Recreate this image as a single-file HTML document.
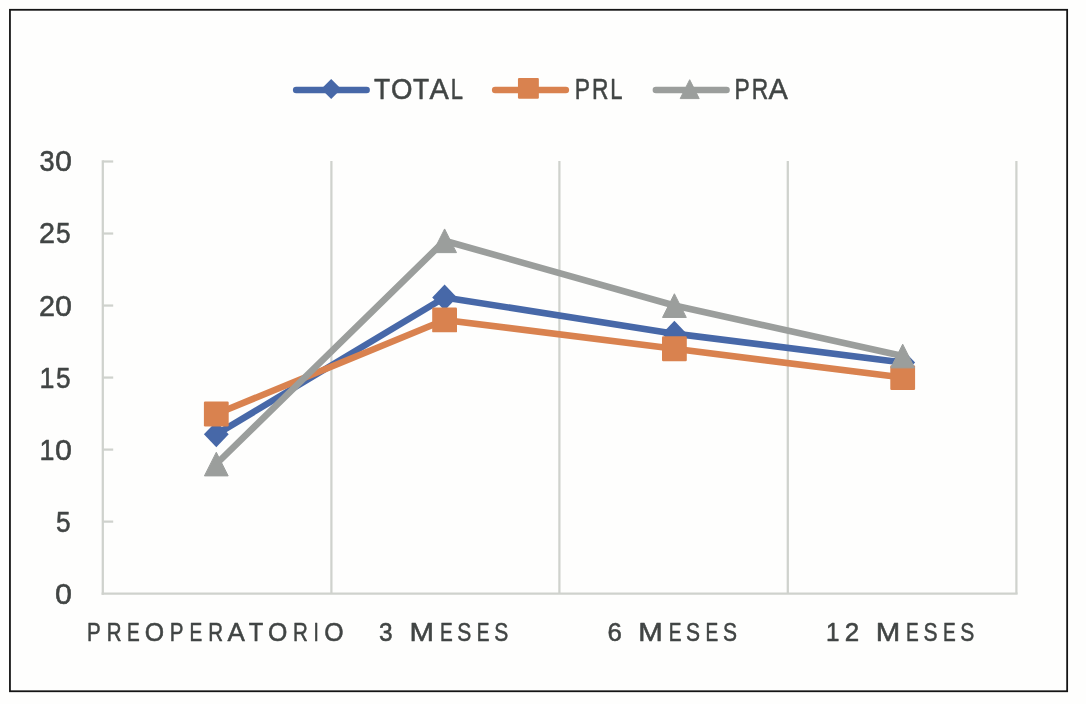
<!DOCTYPE html>
<html><head><meta charset="utf-8"><title>Chart</title>
<style>
html,body{margin:0;padding:0;background:#fefefd;}
body{width:1086px;height:704px;position:relative;overflow:hidden;font-family:"Liberation Sans",sans-serif;color:#414544;}
svg{position:absolute;left:0;top:0;will-change:transform;filter:blur(0.35px);}
text{font-family:"Liberation Sans",sans-serif;fill:#414544;stroke:#414544;stroke-width:0.55px;stroke-linejoin:round;}
.t10{font-size:29.7px;}
.t9{font-size:26.5px;}
.ty{font-size:30.0px;}
</style></head><body>
<svg width="1086" height="704" viewBox="0 0 1086 704">
<rect x="9.95" y="9.8" width="1057.2" height="681.45" fill="none" stroke="#151515" stroke-width="1.8"/>
<line x1="331.4" y1="161.10" x2="331.4" y2="593.65" stroke="#cfd2cd" stroke-width="2.25"/>
<line x1="559.4" y1="161.10" x2="559.4" y2="593.65" stroke="#cfd2cd" stroke-width="2.25"/>
<line x1="787.8" y1="161.10" x2="787.8" y2="593.65" stroke="#cfd2cd" stroke-width="2.25"/>
<line x1="1016.4" y1="161.10" x2="1016.4" y2="593.65" stroke="#cfd2cd" stroke-width="2.25"/>
<line x1="102.8" y1="160.30" x2="102.8" y2="594.85" stroke="#cfd2cd" stroke-width="2.25"/>
<line x1="102.8" y1="521.62" x2="113.2" y2="521.62" stroke="#cfd2cd" stroke-width="2.25"/>
<line x1="102.8" y1="449.60" x2="113.2" y2="449.60" stroke="#cfd2cd" stroke-width="2.25"/>
<line x1="102.8" y1="377.57" x2="113.2" y2="377.57" stroke="#cfd2cd" stroke-width="2.25"/>
<line x1="102.8" y1="305.55" x2="113.2" y2="305.55" stroke="#cfd2cd" stroke-width="2.25"/>
<line x1="102.8" y1="233.52" x2="113.2" y2="233.52" stroke="#cfd2cd" stroke-width="2.25"/>
<line x1="102.8" y1="161.50" x2="113.2" y2="161.50" stroke="#cfd2cd" stroke-width="2.25"/>
<line x1="101.6" y1="593.65" x2="1017.6" y2="593.65" stroke="#cfd2cd" stroke-width="2.25"/>
<polyline points="216.30,434.33 444.60,297.48 674.40,333.64 902.70,362.45" fill="none" stroke="#4768a8" stroke-width="6.6" stroke-linejoin="round" stroke-linecap="round"/>
<path d="M216.30 421.43L228.70 434.33L216.30 447.23L203.90 434.33Z" fill="#4768a8"/>
<path d="M444.60 284.58L457.00 297.48L444.60 310.38L432.20 297.48Z" fill="#4768a8"/>
<path d="M674.40 320.74L686.80 333.64L674.40 346.54L662.00 333.64Z" fill="#4768a8"/>
<path d="M902.70 349.55L915.10 362.45L902.70 375.35L890.30 362.45Z" fill="#4768a8"/>
<polyline points="216.30,414.02 444.60,319.95 674.40,348.76 902.70,377.57" fill="none" stroke="#d9824f" stroke-width="6.6" stroke-linejoin="round" stroke-linecap="round"/>
<rect x="203.90" y="401.62" width="24.80" height="24.80" rx="1.2" fill="#d9824f"/>
<rect x="432.20" y="307.56" width="24.80" height="24.80" rx="1.2" fill="#d9824f"/>
<rect x="662.00" y="336.37" width="24.80" height="24.80" rx="1.2" fill="#d9824f"/>
<rect x="890.30" y="365.18" width="24.80" height="24.80" rx="1.2" fill="#d9824f"/>
<polyline points="216.30,464.00 444.60,240.73 674.40,305.55 902.70,355.97" fill="none" stroke="#9b9e9c" stroke-width="6.6" stroke-linejoin="round" stroke-linecap="round"/>
<path d="M216.30 452.21L228.20 475.90L204.40 475.90Z" fill="#9b9e9c" stroke="#9b9e9c" stroke-width="1" stroke-linejoin="round"/>
<path d="M444.60 228.93L456.50 252.63L432.70 252.63Z" fill="#9b9e9c" stroke="#9b9e9c" stroke-width="1" stroke-linejoin="round"/>
<path d="M674.40 293.75L686.30 317.45L662.50 317.45Z" fill="#9b9e9c" stroke="#9b9e9c" stroke-width="1" stroke-linejoin="round"/>
<path d="M902.70 344.17L914.60 367.87L890.80 367.87Z" fill="#9b9e9c" stroke="#9b9e9c" stroke-width="1" stroke-linejoin="round"/>
<line x1="296.15" y1="89.95" x2="366.65" y2="89.95" stroke="#4768a8" stroke-width="6.5" stroke-linecap="round"/>
<path d="M331.20 79.05L341.20 89.05L331.20 99.05L321.20 89.05Z" fill="#4768a8"/>
<line x1="495.15" y1="89.95" x2="565.85" y2="89.95" stroke="#d9824f" stroke-width="6.5" stroke-linecap="round"/>
<rect x="517.95" y="77.90" width="20.90" height="20.90" rx="1.2" fill="#d9824f"/>
<line x1="655.85" y1="89.95" x2="726.55" y2="89.95" stroke="#9b9e9c" stroke-width="6.5" stroke-linecap="round"/>
<path d="M689.70 79.70L699.20 98.60L680.20 98.60Z" fill="#9b9e9c" stroke="#9b9e9c" stroke-width="1" stroke-linejoin="round"/>
<text class="t10" transform="translate(374.12 99.05) scale(0.891 1)">T</text>
<text class="t10" transform="translate(391.01 99.05) scale(0.930 1)">O</text>
<text class="t10" transform="translate(412.90 99.05) scale(0.891 1)">T</text>
<text class="t10" transform="translate(429.48 99.05) scale(0.976 1)">A</text>
<text class="t10" transform="translate(450.85 99.05) scale(0.740 1)">L</text>
<text class="t10" transform="translate(574.87 99.05) scale(0.768 1)">P</text>
<text class="t10" transform="translate(592.00 99.05) scale(0.766 1)">R</text>
<text class="t10" transform="translate(610.26 99.05) scale(0.740 1)">L</text>
<text class="t10" transform="translate(734.47 99.05) scale(0.768 1)">P</text>
<text class="t10" transform="translate(751.80 99.05) scale(0.766 1)">R</text>
<text class="t10" transform="translate(768.42 99.05) scale(0.976 1)">A</text>
<text class="ty" transform="translate(54.95 603.60) scale(1.015 1)">0</text>
<text class="ty" transform="translate(56.06 531.58) scale(0.873 1)">5</text>
<text class="ty" transform="translate(39.60 459.55) scale(0.896 1)">1</text>
<text class="ty" transform="translate(54.95 459.55) scale(1.015 1)">0</text>
<text class="ty" transform="translate(39.60 387.52) scale(0.896 1)">1</text>
<text class="ty" transform="translate(56.06 387.52) scale(0.873 1)">5</text>
<text class="ty" transform="translate(38.90 315.50) scale(0.960 1)">2</text>
<text class="ty" transform="translate(54.95 315.50) scale(1.015 1)">0</text>
<text class="ty" transform="translate(38.90 243.47) scale(0.960 1)">2</text>
<text class="ty" transform="translate(56.06 243.47) scale(0.873 1)">5</text>
<text class="ty" transform="translate(39.39 171.45) scale(0.906 1)">3</text>
<text class="ty" transform="translate(54.95 171.45) scale(1.015 1)">0</text>
<text class="t9" transform="translate(86.97 640.80) scale(0.775 1)">P</text>
<text class="t9" transform="translate(106.65 640.80) scale(0.773 1)">R</text>
<text class="t9" transform="translate(127.12 640.80) scale(0.720 1)">E</text>
<text class="t9" transform="translate(144.82 640.80) scale(0.938 1)">O</text>
<text class="t9" transform="translate(169.81 640.80) scale(0.775 1)">P</text>
<text class="t9" transform="translate(189.53 640.80) scale(0.720 1)">E</text>
<text class="t9" transform="translate(208.36 640.80) scale(0.773 1)">R</text>
<text class="t9" transform="translate(227.39 640.80) scale(0.984 1)">A</text>
<text class="t9" transform="translate(248.86 640.80) scale(0.899 1)">T</text>
<text class="t9" transform="translate(267.96 640.80) scale(0.938 1)">O</text>
<text class="t9" transform="translate(292.96 640.80) scale(0.773 1)">R</text>
<text class="t9" transform="translate(313.57 640.80) scale(0.720 1)">I</text>
<text class="t9" transform="translate(324.33 640.80) scale(0.938 1)">O</text>
<text class="t9" transform="translate(379.11 640.80) scale(0.923 1)">3</text>
<text class="t9" transform="translate(409.60 640.80) scale(1.111 1)">M</text>
<text class="t9" transform="translate(439.95 640.80) scale(0.720 1)">E</text>
<text class="t9" transform="translate(457.31 640.80) scale(0.793 1)">S</text>
<text class="t9" transform="translate(476.85 640.80) scale(0.720 1)">E</text>
<text class="t9" transform="translate(494.21 640.80) scale(0.793 1)">S</text>
<text class="t9" transform="translate(607.44 640.80) scale(0.972 1)">6</text>
<text class="t9" transform="translate(638.30 640.80) scale(1.111 1)">M</text>
<text class="t9" transform="translate(668.65 640.80) scale(0.720 1)">E</text>
<text class="t9" transform="translate(686.01 640.80) scale(0.793 1)">S</text>
<text class="t9" transform="translate(705.55 640.80) scale(0.720 1)">E</text>
<text class="t9" transform="translate(722.91 640.80) scale(0.793 1)">S</text>
<text class="t9" transform="translate(826.00 640.80) scale(0.913 1)">1</text>
<text class="t9" transform="translate(844.77 640.80) scale(0.978 1)">2</text>
<text class="t9" transform="translate(875.70 640.80) scale(1.111 1)">M</text>
<text class="t9" transform="translate(906.05 640.80) scale(0.720 1)">E</text>
<text class="t9" transform="translate(923.41 640.80) scale(0.793 1)">S</text>
<text class="t9" transform="translate(942.95 640.80) scale(0.720 1)">E</text>
<text class="t9" transform="translate(960.31 640.80) scale(0.793 1)">S</text>
</svg>
</body></html>
